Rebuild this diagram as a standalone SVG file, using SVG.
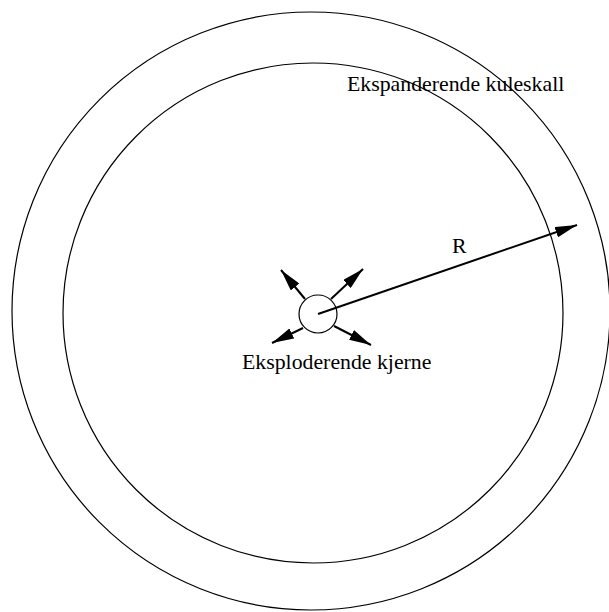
<svg xmlns="http://www.w3.org/2000/svg" width="609" height="612" viewBox="0 0 609 612">
<style>
.c{fill:none;stroke:#000;stroke-width:1.2}
.a{stroke:#000;stroke-width:2;fill:none}
.t{font-family:'Liberation Serif','Times New Roman',serif;fill:#000}
</style>
<defs>
<marker id="ahb" viewBox="0 0 10 10" refX="10" refY="5" markerWidth="22" markerHeight="11" markerUnits="userSpaceOnUse" orient="auto" preserveAspectRatio="none">
<path d="M0,0 L10,5 L0,10 Z" fill="#000"/>
</marker>
</defs>
<g id="outer"><circle class="c" cx="311" cy="311" r="299"/></g>
<g id="inner"><circle class="c" cx="313" cy="313" r="250"/></g>
<g id="core"><circle class="c" cx="318" cy="314" r="19"/></g>
<g id="connectors">
<line class="a" x1="318" y1="314" x2="577" y2="225" marker-end="url(#ahb)"/>
<line class="a" x1="305" y1="299" x2="281" y2="270" marker-end="url(#ahb)"/>
<line class="a" x1="331" y1="299" x2="363" y2="269" marker-end="url(#ahb)"/>
<line class="a" x1="303" y1="328" x2="272" y2="343" marker-end="url(#ahb)"/>
<line class="a" x1="334" y1="326" x2="371" y2="345" marker-end="url(#ahb)"/>
</g>
<g id="labels">
<text class="t" font-family="Liberation Serif, serif" font-size="21.8" x="347" y="91">Ekspanderende kuleskall</text>
<text class="t" font-family="Liberation Serif, serif" font-size="21.8" x="242" y="369">Eksploderende kjerne</text>
<text class="t" font-family="Liberation Serif, serif" font-size="21.8" x="452" y="253">R</text>
</g>
</svg>
